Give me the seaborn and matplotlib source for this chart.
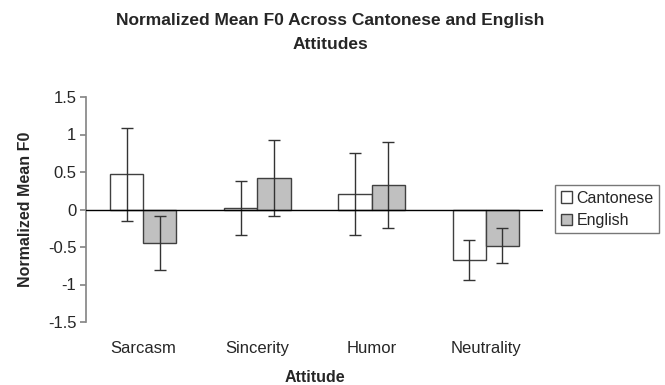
import pandas as pd
import seaborn as sns
import matplotlib.pyplot as plt

sns.set_theme(style='white')
plt.rcParams['font.family'] = ['Liberation Sans', 'DejaVu Sans']
plt.rcParams['axes.unicode_minus'] = False

attitudes = ['Sarcasm', 'Sincerity', 'Humor', 'Neutrality']
languages = ['Cantonese', 'English']
cantonese_mean = [0.47, 0.02, 0.21, -0.67]
cantonese_err = [0.62, 0.36, 0.55, 0.27]
english_mean = [-0.45, 0.42, 0.33, -0.48]
english_err = [0.36, 0.51, 0.57, 0.23]
yticks = [-1.5, -1, -0.5, 0, 0.5, 1, 1.5]

df = pd.DataFrame({
    'Attitude': attitudes * 2,
    'Language': ['Cantonese'] * 4 + ['English'] * 4,
    'mean': cantonese_mean + english_mean,
    'err': cantonese_err + english_err,
})

fig = plt.figure(figsize=(6.65, 3.85), dpi=100)
ax = fig.add_axes([86 / 665, 1 - 322 / 385, 457 / 665, 225 / 385])

sns.barplot(data=df, x='Attitude', y='mean', hue='Language', order=attitudes,
            hue_order=languages, palette=['white', '#c0c0c0'], width=0.58,
            edgecolor='#404040', linewidth=1, errorbar=None, ax=ax)

# error bars placed on the bar centres seaborn drew
for cont, lang in zip(ax.containers, languages):
    sub = df[df['Language'] == lang].set_index('Attitude').loc[attitudes]
    xs = [b.get_x() + b.get_width() / 2 for b in cont]
    ax.errorbar(xs, sub['mean'], yerr=sub['err'], fmt='none', ecolor='#333333',
                elinewidth=1, capsize=4.5, capthick=1, zorder=3)

ax.axhline(0, color='black', lw=1, zorder=4)
ax.set_ylim(-1.5, 1.5)
ax.set_xlim(-0.5, 3.5)
ax.set_yticks(yticks)
ax.set_yticklabels(['{:g}'.format(v) for v in yticks])

for side in ['top', 'right', 'bottom']:
    ax.spines[side].set_visible(False)
ax.spines['left'].set_color('#888888')
ax.tick_params(axis='y', left=True, length=4, color='#888888', labelsize=12, pad=3)
ax.tick_params(axis='x', bottom=False, length=0, labelsize=12, pad=14)

ax.set_xlabel('Attitude', fontsize=11.5, fontweight='bold')
ax.set_ylabel('Normalized Mean F0', fontsize=11.5, fontweight='bold')
ax.xaxis.set_label_coords(0.5, -0.215)
ax.yaxis.set_label_coords(-0.116, 0.5)

fig.text(330 / 665, 1 - 13 / 385, 'Normalized Mean F0 Across Cantonese and English\nAttitudes',
         ha='center', va='top', fontsize=12.5, fontweight='bold', linespacing=1.78)

leg = ax.legend(loc='upper left', bbox_to_anchor=(555 / 665, 1 - 185 / 385),
                bbox_transform=fig.transFigure, fontsize=11.5, frameon=True,
                fancybox=False, edgecolor='#555555', handlelength=0.7,
                handleheight=0.7, handletextpad=0.3, borderpad=0.35,
                labelspacing=0.45, borderaxespad=0)
leg.get_frame().set_linewidth(1)

fig.savefig('out.png', dpi=100)
